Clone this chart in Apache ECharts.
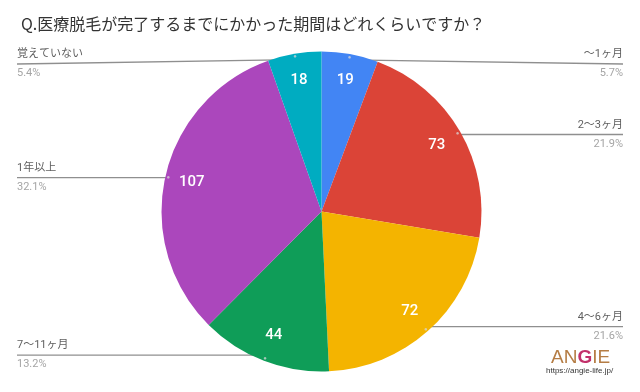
<!DOCTYPE html>
<html><head><meta charset="utf-8">
<script src="https://cdn.jsdelivr.net/npm/echarts@6/dist/echarts.min.js"></script>
<style>html,body{margin:0;padding:0;background:#fff}#c{width:640px;height:392px}</style>
</head><body><div id="c"></div>
<script>
const titleText = 'Q.医療脱毛が完了するまでにかかった期間はどれくらいですか？';
const categories = ['〜1ヶ月', '2〜3ヶ月', '4〜6ヶ月', '7〜11ヶ月', '1年以上', '覚えていない'];
const values = [19, 73, 72, 44, 107, 18];
const colors = ['#4285F4', '#DB4437', '#F4B400', '#0F9D58', '#AB47BC', '#00ACC1'];

const FONT = 'Roboto, "Noto Sans CJK JP", sans-serif';
const total = values.reduce((a, b) => a + b, 0);
const chart = echarts.init(document.getElementById('c'), null, {renderer: 'canvas'});
const W = chart.getWidth();
const CX = 321.5, CY = 211.5, R = 160, DOT_R = 154, EDGE = 17;

const data = categories.map((n, i) => ({name: n, value: values[i], itemStyle: {color: colors[i]}}));
const ghost = categories.map((n, i) => ({name: n, value: values[i]}));

chart.setOption({
  animation: false,
  backgroundColor: '#fff',
  title: {
    text: titleText, left: 16, top: 11,
    textStyle: {fontSize: 16, fontWeight: 'normal', color: '#333', fontFamily: '"Noto Sans CJK JP", sans-serif'}
  },
  graphic: [
    {type: 'text', left: 551, top: 348, style: {
      text: '{a|AN}{g|G}{a|IE}',
      rich: {
        a: {fontSize: 19, fontFamily: '"Liberation Sans", sans-serif', fill: '#b57d45'},
        g: {fontSize: 19, fontFamily: '"Liberation Sans", sans-serif', fill: '#c2306a', fontWeight: 'bold'}
      }
    }},
    {type: 'text', left: 546, top: 367, style: {text: 'https://angie-life.jp/', fontSize: 8, fill: '#333', fontFamily: '"Liberation Sans", sans-serif'}}
  ],
  series: [
    {
      type: 'pie', center: [CX, CY], radius: R, data: data,
      startAngle: 90, clockwise: true,
      itemStyle: {borderWidth: 0},
      emphasis: {disabled: true},
      label: {
        show: true, position: 'outside', alignTo: 'edge', edgeDistance: EDGE,
        formatter: function (p) {
          return '{n|' + p.name + '}\n{p|' + (p.value / total * 100).toFixed(1) + '%}';
        },
        rich: {
          n: {fontSize: 11, color: '#5f5f5f', lineHeight: 19, fontFamily: FONT},
          p: {fontSize: 11, color: '#a5a5a5', lineHeight: 19, fontFamily: FONT}
        }
      },
      labelLine: {show: true, length: 0, length2: 10, lineStyle: {color: '#8f8f8f', width: 1.3}},
      labelLayout: function (p) {
        const pts = p.labelLinePoints;
        if (!pts) return {};
        const p0 = pts[0];
        const dx = p0[0] - CX, dy = p0[1] - CY;
        const len = Math.hypot(dx, dy) || 1;
        const dot = [CX + dx / len * DOT_R, CY + dy / len * DOT_R];
        const left = dx < 0;
        const ly = Math.max(dot[1], 64);
        const ex = left ? EDGE : W - EDGE;
        return {
          x: ex, y: ly, align: left ? 'left' : 'right', verticalAlign: 'middle',
          labelLinePoints: [dot, [ex, ly]]
        };
      }
    },
    {
      type: 'pie', center: [CX, CY], radius: [100, R], data: ghost, silent: true,
      startAngle: 90, clockwise: true,
      itemStyle: {color: 'rgba(0,0,0,0)', borderWidth: 0},
      emphasis: {disabled: true},
      label: {show: true, position: 'inside', formatter: '{c}', color: '#fff', fontSize: 15, fontWeight: 500, fontFamily: FONT},
      labelLine: {show: false}
    },
    {
      type: 'pie', center: [CX, CY], radius: [150, 158], data: ghost, silent: true,
      startAngle: 90, clockwise: true,
      itemStyle: {color: 'rgba(0,0,0,0)', borderWidth: 0},
      emphasis: {disabled: true},
      label: {show: true, position: 'inside', formatter: '●', color: 'rgba(215,215,215,0.75)', fontSize: 6},
      labelLine: {show: false}
    }
  ]
});
</script></body></html>
